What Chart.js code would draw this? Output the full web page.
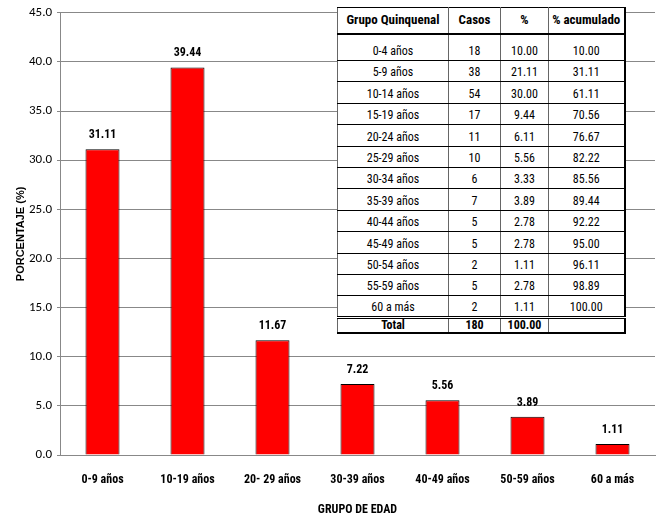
<!DOCTYPE html>
<html>
<head>
<meta charset="utf-8">
<script src="https://cdn.jsdelivr.net/npm/chart.js@4.4.1/dist/chart.umd.min.js"></script>
<style>
  html, body { margin:0; padding:0; background:#fff; }
  #wrap { position:relative; width:659px; height:517px; }
  #c { position:absolute; left:0; top:0; }
  #tbl { position:absolute; left:337px; top:7px; width:287px; table-layout:fixed; border-collapse:collapse; background:#fff;
         font-family:"Roboto Condensed","Liberation Sans Narrow","Arial Narrow",sans-serif; font-size:12px; color:#000;
         border-top:1px solid #000; border-left:1px solid #000; border-right:2px solid #000; border-bottom:2px solid #000; }
  #tbl td, #tbl th { border-left:1px solid #666; border-right:1px solid #666; border-top:1px solid #000; border-bottom:1px solid #000;
         padding:0 1px 2px 1px; text-align:center; vertical-align:bottom; line-height:14px; overflow:visible; white-space:nowrap; }
  #tbl th { font-weight:bold; font-size:13px; vertical-align:middle; padding:0 0 1px 0; border-bottom:2px solid #000; }
  #tbl tr.hdr { height:26px; }
  #tbl tr.first { height:27px; }
  #tbl tr.row { height:21.4px; }
  #tbl tr.tot { height:15px; }
  #tbl tr.tot td { font-weight:bold; padding-bottom:0; line-height:13px; border-top:3px double #000; }
</style>
</head>
<body>
<div id="wrap">
  <canvas id="c" width="659" height="517"></canvas>
  <table id="tbl"></table>
</div>
<script>
// Chart data
const categories = ['0-9 años','10-19 años','20- 29 años','30-39 años','40-49 años','50-59 años','60 a más'];
const percentages = [31.11, 39.44, 11.67, 7.22, 5.56, 3.89, 1.11];
const yTicks = [0,5,10,15,20,25,30,35,40,45];

// Table data
const tableHeaders = ['Grupo Quinquenal','Casos','%','% acumulado'];
const quinquenalGroups = ['0-4 años','5-9 años','10-14 años','15-19 años','20-24 años','25-29 años','30-34 años','35-39 años','40-44 años','45-49 años','50-54 años','55-59 años','60 a más'];
const cases = [18,38,54,17,11,10,6,7,5,5,2,5,2];
const casePct = ['10.00','21.11','30.00','9.44','6.11','5.56','3.33','3.89','2.78','2.78','1.11','2.78','1.11'];
const cumPct = ['10.00','31.11','61.11','70.56','76.67','82.22','85.56','89.44','92.22','95.00','96.11','98.89','100.00'];
const totalRow = ['Total','180','100.00',''];

// build table
const tbl = document.getElementById('tbl');
let html = '<colgroup><col style="width:111px"><col style="width:52px"><col style="width:48px"><col style="width:76px"></colgroup>';
html += '<tr class="hdr">' + tableHeaders.map(h => '<th>' + h + '</th>').join('') + '</tr>';
quinquenalGroups.forEach((g, i) => {
  html += '<tr class="' + (i === 0 ? 'first' : 'row') + '"><td>' + g + '</td><td>' + cases[i] + '</td><td>' + casePct[i] + '</td><td>' + cumPct[i] + '</td></tr>';
});
html += '<tr class="tot">' + totalRow.map(t => '<td>' + t + '</td>').join('') + '</tr>';
tbl.innerHTML = html;

const chartFont = 'Carlito, Calibri, "Liberation Sans", sans-serif';
const boldFont = '"Roboto Condensed", Carlito, "Liberation Sans", sans-serif';

const valueLabels = {
  id: 'valueLabels',
  afterDatasetsDraw(chart) {
    const ctx = chart.ctx;
    const meta = chart.getDatasetMeta(0);
    ctx.save();
    ctx.font = 'bold 12px ' + boldFont;
    ctx.fillStyle = '#000';
    ctx.textAlign = 'center';
    ctx.textBaseline = 'middle';
    meta.data.forEach((bar, i) => {
      const p = bar.getProps(['x','y'], true);
      ctx.fillText(percentages[i].toFixed(2), p.x, p.y - 14);
    });
    ctx.restore();
  }
};

new Chart(document.getElementById('c'), {
  type: 'bar',
  data: {
    labels: categories,
    datasets: [{
      data: percentages,
      backgroundColor: '#ff0000',
      borderColor: '#000',
      borderWidth: 1,
      categoryPercentage: 1,
      barPercentage: 0.4
    }]
  },
  options: {
    responsive: false,
    animation: false,
    events: [],
    layout: { padding: { left: 0, right: 4, top: 6, bottom: 0 } },
    plugins: { legend: { display: false }, tooltip: { enabled: false } },
    scales: {
      x: {
        grid: { display: false, drawTicks: false },
        border: { color: '#888', width: 1 },
        ticks: { color: '#000', font: { family: boldFont, size: 12, weight: 'bold' }, padding: 18, maxRotation: 0 },
        title: { display: true, text: 'GRUPO DE EDAD', color: '#000', font: { family: boldFont, size: 12, weight: 'bold' }, padding: { top: 0, bottom: 0 } },
        afterFit(s) { s.height = 62; }
      },
      y: {
        min: 0, max: 45,
        afterBuildTicks(s) { s.ticks = yTicks.map(v => ({ value: v })); },
        grid: { color: '#888', lineWidth: 1, tickLength: 3, drawTicks: true },
        border: { color: '#888', width: 1 },
        ticks: { color: '#000', font: { family: chartFont, size: 13 }, padding: 5, callback: v => Number(v).toFixed(1) },
        title: { display: true, text: 'PORCENTAJE (%)', color: '#000', font: { family: '"Liberation Sans",Arial,sans-serif', size: 11, weight: 'bold' }, padding: { top: 14, bottom: 0 } },
        afterFit(s) { s.width = 60; }
      }
    }
  },
  plugins: [valueLabels]
});
</script>
</body>
</html>
